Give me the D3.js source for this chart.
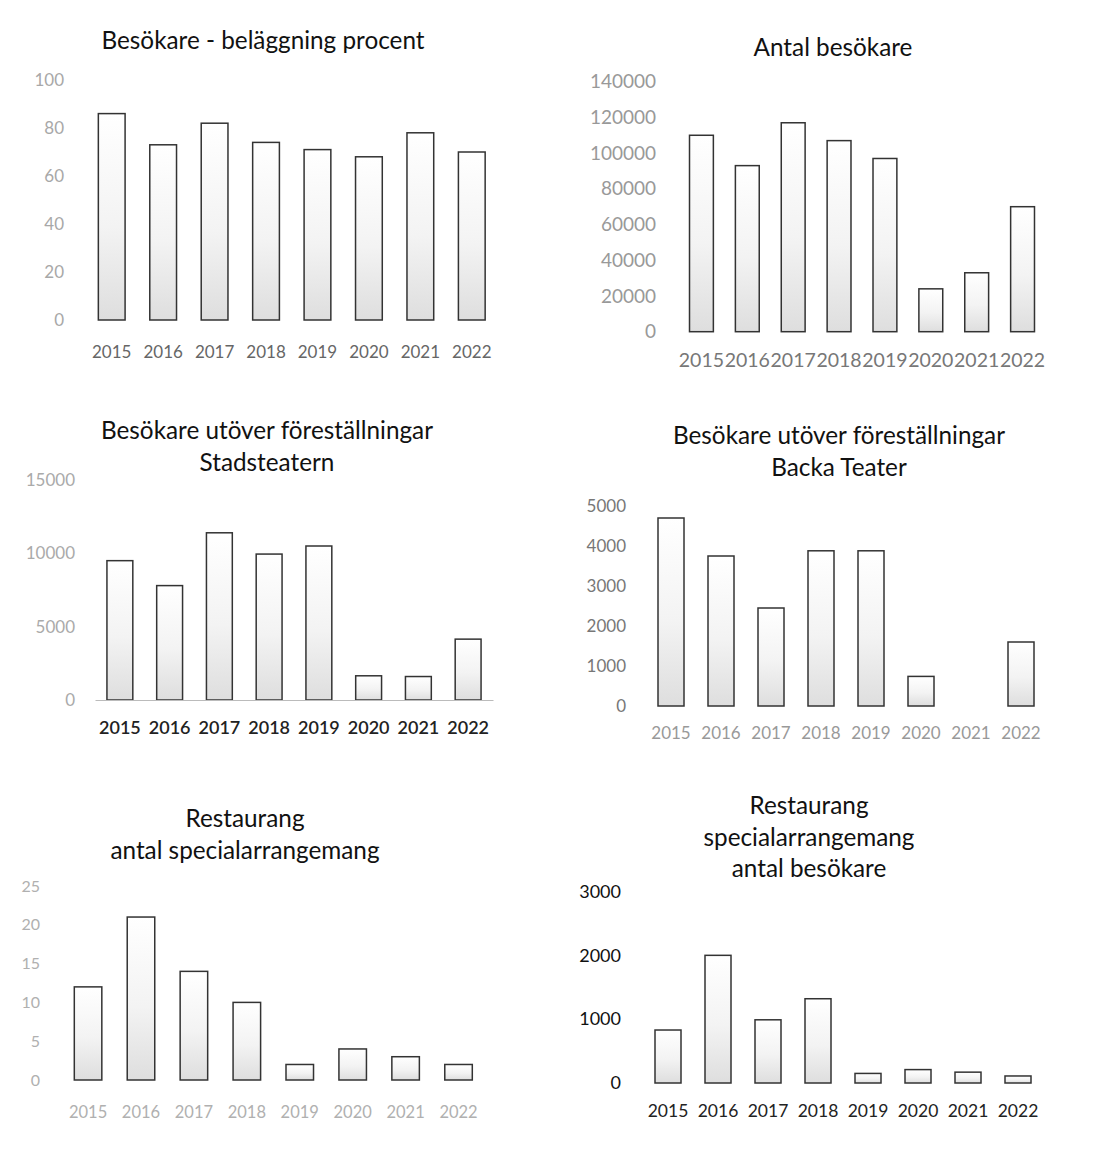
<!DOCTYPE html>
<html><head><meta charset="utf-8">
<script src="https://cdn.jsdelivr.net/npm/d3@7"></script>
<style>
html,body{margin:0;padding:0;background:#fff;}
svg{display:block;font-family:Lato,"Open Sans",sans-serif;}
</style></head>
<body>
<svg id="c" width="1116" height="1176"></svg>
<script>
// ---- data ----
const years = ["2015","2016","2017","2018","2019","2020","2021","2022"];
const belaggningProcent = [86, 73, 82, 74, 71, 68, 78, 70];
const antalBesokare = [110000, 93000, 117000, 107000, 97000, 24000, 33000, 70000];
const utoverStadsteatern = [9500, 7800, 11400, 9950, 10500, 1650, 1600, 4150];
const utoverBacka = [4700, 3750, 2450, 3880, 3880, 740, 0, 1600];
const restSpecialAntal = [12, 21, 14, 10, 2, 4, 3, 2];
const restSpecialBesokare = [830, 2000, 990, 1320, 150, 210, 170, 110];

const ticks1 = [0, 20, 40, 60, 80, 100];
const ticks2 = [0, 20000, 40000, 60000, 80000, 100000, 120000, 140000];
const ticks3 = [0, 5000, 10000, 15000];
const ticks4 = [0, 1000, 2000, 3000, 4000, 5000];
const ticks5 = [0, 5, 10, 15, 20, 25];
const ticks6 = [0, 1000, 2000, 3000];

const titles1 = ["Besökare - beläggning procent"];
const titles2 = ["Antal besökare"];
const titles3 = ["Besökare utöver föreställningar", "Stadsteatern"];
const titles4 = ["Besökare utöver föreställningar", "Backa Teater"];
const titles5 = ["Restaurang", "antal specialarrangemang"];
const titles6 = ["Restaurang", "specialarrangemang", "antal besökare"];

// ---- layout ----
const charts = [
  {values: belaggningProcent, ticks: ticks1, title: titles1, x0: 86, x1: 497.5, yBase: 320, yTop: 80, max: 100,
   yLabelX: 64, tickFs: 17, tickColor: "#a8a8a8", xFs: 17, xColor: "#666", xPad: 26, xWeight: 400,
   titleX: 263, titleY: [40], axisLine: false},
  {values: antalBesokare, ticks: ticks2, title: titles2, x0: 678.5, x1: 1045.5, yBase: 331.7, yTop: 81.7, max: 140000,
   yLabelX: 656, tickFs: 19, tickColor: "#999", xFs: 19.5, xColor: "#777", xPad: 21, xWeight: 400,
   titleX: 833, titleY: [47], axisLine: false},
  {values: utoverStadsteatern, ticks: ticks3, title: titles3, x0: 95, x1: 493, yBase: 700, yTop: 480, max: 15000,
   yLabelX: 75, tickFs: 17, tickColor: "#aaa", xFs: 18, xColor: "#222", xPad: 21, xWeight: 600,
   titleX: 267, titleY: [430, 462], axisLine: true},
  {values: utoverBacka, ticks: ticks4, title: titles4, x0: 646, x1: 1046, yBase: 706, yTop: 506, max: 5000,
   yLabelX: 626, tickFs: 17, tickColor: "#777", xFs: 17, xColor: "#999", xPad: 20.5, xWeight: 400,
   titleX: 839, titleY: [435, 467], axisLine: false},
  {values: restSpecialAntal, ticks: ticks5, title: titles5, x0: 61.6, x1: 485, yBase: 1080, yTop: 886, max: 25,
   yLabelX: 40, tickFs: 16, tickColor: "#b0b0b0", xFs: 16.5, xColor: "#b0b0b0", xPad: 26, xWeight: 400,
   titleX: 245, titleY: [818, 850], axisLine: false},
  {values: restSpecialBesokare, ticks: ticks6, title: titles6, x0: 643, x1: 1043, yBase: 1083, yTop: 891.5, max: 3000,
   yLabelX: 621, tickFs: 18, tickColor: "#111", xFs: 17.5, xColor: "#222", xPad: 22, xWeight: 400,
   titleX: 809, titleY: [805, 837, 868], axisLine: false}
];
const titleFs = 24.3;

const svg = d3.select("#c");
const defs = svg.append("defs");
const grad = defs.append("linearGradient").attr("id", "barGrad")
  .attr("x1", 0).attr("y1", 0).attr("x2", 0).attr("y2", 1);
grad.append("stop").attr("offset", "0%").attr("stop-color", "#ffffff");
grad.append("stop").attr("offset", "55%").attr("stop-color", "#f3f3f3");
grad.append("stop").attr("offset", "100%").attr("stop-color", "#dedede");

charts.forEach(c => {
  const g = svg.append("g");
  const x = d3.scaleBand().domain(years).range([c.x0, c.x1]).paddingInner(0.48).paddingOuter(0.24);
  const y = d3.scaleLinear().domain([0, c.max]).range([c.yBase, c.yTop]);

  // title
  g.append("text")
    .attr("x", c.titleX).attr("text-anchor", "middle")
    .attr("font-size", titleFs).attr("fill", "#111")
    .selectAll("tspan").data(c.title).join("tspan")
    .attr("x", c.titleX).attr("y", (d, i) => c.titleY[i]).attr("dy", "0.36em")
    .text(d => d);

  // y axis
  const ya = g.append("g").attr("transform", `translate(${c.yLabelX},0)`)
    .call(d3.axisLeft(y).tickValues(c.ticks).tickSize(0).tickPadding(0).tickFormat(d3.format("d")));
  ya.select(".domain").remove();
  ya.selectAll("text").attr("font-size", c.tickFs).attr("fill", c.tickColor).attr("font-family", "Lato, sans-serif");

  // bars
  g.append("g").selectAll("rect").data(c.values.map((v, i) => ({year: years[i], v})).filter(d => d.v > 0))
    .join("rect")
    .attr("x", d => x(d.year)).attr("width", x.bandwidth())
    .attr("y", d => y(d.v)).attr("height", d => c.yBase - y(d.v))
    .attr("fill", "url(#barGrad)").attr("stroke", "#333").attr("stroke-width", 1.5);

  // x axis
  const xa = g.append("g").attr("transform", `translate(0,${c.yBase})`)
    .call(d3.axisBottom(x).tickSize(0).tickPadding(c.xPad));
  if (c.axisLine) {
    xa.select(".domain").attr("stroke", "#bbb").attr("stroke-width", 1);
  } else {
    xa.select(".domain").remove();
  }
  xa.selectAll("text").attr("font-size", c.xFs).attr("fill", c.xColor).attr("font-weight", c.xWeight).attr("font-family", "Lato, sans-serif");
});
</script>
</body></html>
